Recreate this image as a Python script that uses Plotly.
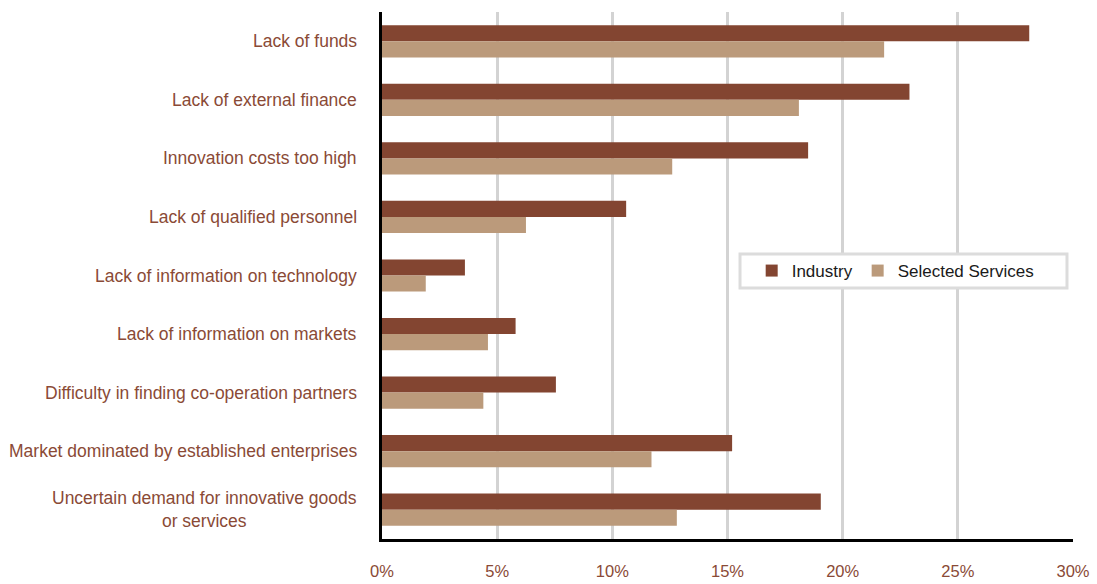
import plotly.graph_objects as go

categories = [
    "Lack of funds",
    "Lack of external finance",
    "Innovation costs too high",
    "Lack of qualified personnel",
    "Lack of information on technology",
    "Lack of information on markets",
    "Difficulty in finding co-operation partners",
    "Market dominated by established enterprises",
    "Uncertain demand for innovative goods<br>or services",
]
industry = [28.1, 22.9, 18.5, 10.6, 3.6, 5.8, 7.55, 15.2, 19.05]
services = [21.8, 18.1, 12.6, 6.25, 1.9, 4.6, 4.4, 11.7, 12.8]
x_ticks = [0, 5, 10, 15, 20, 25, 30]
x_tick_labels = ["0%", "5%", "10%", "15%", "20%", "25%", "30%"]

brown_text = "#8a4a36"
font_family = "Liberation Sans, Arial, sans-serif"

fig = go.Figure()
fig.add_trace(go.Bar(
    y=categories, x=industry, name="Industry", orientation="h",
    marker=dict(color="#834531", line=dict(width=0)),
))
fig.add_trace(go.Bar(
    y=categories, x=services, name="Selected Services", orientation="h",
    marker=dict(color="#bb9a7b", line=dict(width=0)),
))

# category labels as right-aligned, centre-justified text blocks
for cat in categories:
    fig.add_annotation(
        x=0, xref="paper", xshift=-23, y=cat, yref="y",
        text=cat, showarrow=False, xanchor="right", yanchor="middle",
        align="center", font=dict(family=font_family, size=17.5, color=brown_text),
    )

# framed white panel behind the legend (hides the gridlines beneath it)
fig.add_shape(
    type="rect", xref="paper", yref="paper",
    x0=0.5181, x1=0.9913, y0=0.4763, y1=0.5408,
    fillcolor="white", line=dict(color="#dcdcdc", width=3), layer="above",
)

fig.update_layout(
    width=1097, height=584,
    margin=dict(l=382, r=24, t=12, b=45, autoexpand=False),
    paper_bgcolor="white", plot_bgcolor="white",
    barmode="group", bargap=0.45, bargroupgap=0,
    font=dict(family=font_family, size=16, color=brown_text),
    showlegend=True,
    legend=dict(
        orientation="h", x=0.535, y=0.5085, xanchor="left", yanchor="middle",
        bgcolor="rgba(0,0,0,0)", borderwidth=0,
        font=dict(family=font_family, size=17, color="#1a1a1a"),
        traceorder="normal", itemwidth=30,
    ),
    xaxis=dict(
        range=[0, 30], tickvals=x_ticks, ticktext=x_tick_labels,
        showgrid=True, gridcolor="#d3d3d3", gridwidth=3,
        showline=True, linecolor="black", linewidth=3,
        zeroline=False, ticks="", ticklabelstandoff=15, automargin=False,
        tickfont=dict(family=font_family, size=16.5, color=brown_text),
    ),
    yaxis=dict(
        categoryorder="array", categoryarray=categories,
        autorange="reversed", showticklabels=False, automargin=False,
        showline=True, linecolor="black", linewidth=3,
        showgrid=False, zeroline=False, ticks="",
    ),
)

fig.write_html("out.html")
